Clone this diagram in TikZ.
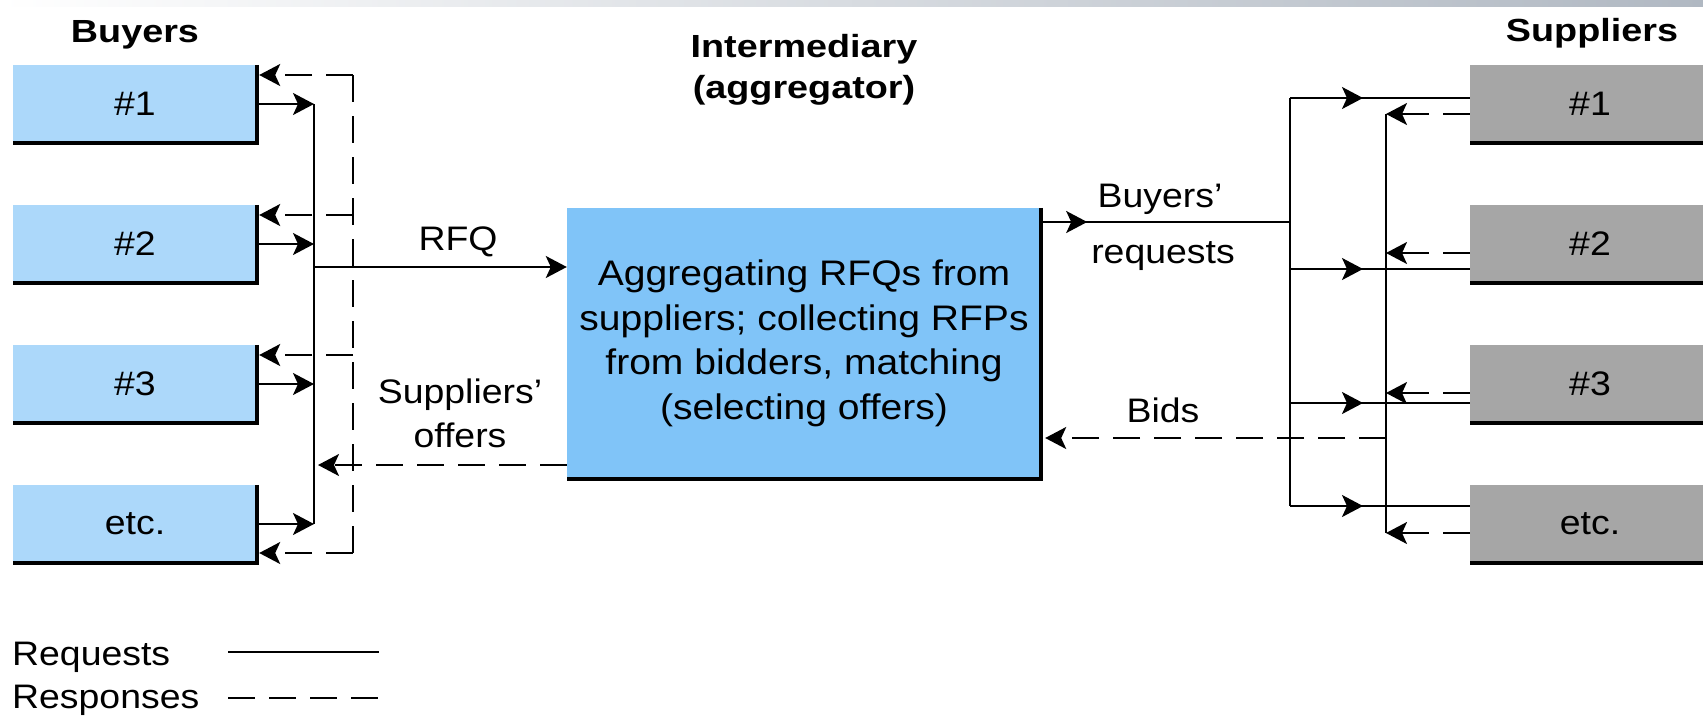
\documentclass[tikz,border=0pt]{standalone}
\usepackage{fontspec}
\setmainfont{Liberation Sans}[FakeStretch=1.1]
\newfontfamily\titlefam{Liberation Sans}[FakeStretch=1.18]
\usetikzlibrary{arrows.meta}
\definecolor{buyerblue}{RGB}{172,216,250}
\definecolor{aggblue}{RGB}{128,196,248}
\definecolor{suppgray}{RGB}{166,166,166}
\definecolor{bandgray}{RGB}{176,184,194}
\newcommand\dfont{\fontsize{34}{43}\selectfont}
\newcommand\afont{\fontsize{35.5}{44.5}\selectfont}
\newcommand\tfont{\titlefam\bfseries\fontsize{32}{41}\selectfont}
\begin{document}
\begin{tikzpicture}[x=1pt,y=-1pt,
  >={Stealth[length=21pt,width=22pt,inset=5pt]},
  every node/.style={font=\dfont, inner sep=0pt},
  boxbase/.style={minimum height=78pt, inner sep=0pt},
  buyerbox/.style={boxbase, fill=buyerblue, minimum width=244pt},
  suppbox/.style={boxbase, fill=suppgray, minimum width=240pt},
  aggbox/.style={fill=aggblue, minimum width=474pt, minimum height=271pt, align=center, font=\afont},
  shadowedge/.style={line width=4.5pt, line join=miter},
  req/.style={line width=2pt},
  resp/.style={line width=2pt, dash pattern=on 27pt off 14pt},
  titletext/.style={font=\tfont, anchor=base},
  lbl/.style={anchor=base},
]
\useasboundingbox (0,0) rectangle (1703,718);
\shade[left color=white, right color=bandgray] (0,0) rectangle (1703,6);

% titles
\node[titletext] (tb) at (135,42) {Buyers};
\node[titletext] (ti1) at (804,57) {Intermediary};
\node[titletext] (ti2) at (804,98) {(aggregator)};
\node[titletext] (ts) at (1592,41) {Suppliers};

% buyer boxes
\node[buyerbox] (b1) at (135,104) {\#1};
\node[buyerbox] (b2) at (135,244) {\#2};
\node[buyerbox] (b3) at (135,384) {\#3};
\node[buyerbox] (b4) at (135,524) {etc.};
% supplier boxes
\node[suppbox] (s1) at (1590,104) {\#1};
\node[suppbox] (s2) at (1590,244) {\#2};
\node[suppbox] (s3) at (1590,384) {\#3};
\node[suppbox] (s4) at (1590,524) {etc.};
% aggregator
\node[aggbox] (agg) at (804,343.5) {Aggregating RFQs from\\suppliers; collecting RFPs\\from bidders, matching\\(selecting offers)};

\foreach \n in {b1,b2,b3,b4,agg}
  \draw[shadowedge] (\n.north east) -- (\n.south east) -- (\n.south west);
\foreach \n in {s1,s2,s3,s4}
  \draw[shadowedge] (\n.south east) -- (\n.south west);

% left side buses
\coordinate (lq1) at (314,104);
\coordinate (lq4) at (314,524);
\coordinate (lp1) at (353,75);
\coordinate (lp2) at (353,215);
\coordinate (lp3) at (353,355);
\coordinate (lp4) at (353,553);
\draw[req] (lq1) -- (lq4);
\draw[resp] (lp1) -- (lp4);
\foreach \i in {1,...,4}
  \draw[req,->] (b\i.east) -- (b\i.east -| lq1);
\foreach \i in {1,...,4}
  \draw[resp,->,shorten >=2pt] (lp\i) -- (lp\i -| b\i.east);

% RFQ and offers
\coordinate (rfq) at (314,267);
\draw[req,->] (rfq) -- (rfq -| agg.west);
\coordinate (off) at (318,465);
\draw[resp,->] (off -| agg.west) -- (off);

% right side
\coordinate (rq0) at (1290,222);
\coordinate (rq1) at (1290,98);
\coordinate (rq2) at (1290,269);
\coordinate (rq3) at (1290,403);
\coordinate (rq4) at (1290,506);
\draw[req] (rq1) -- (rq4);
\draw[req] (rq0 -| agg.east) -- (rq0);
\draw[req,->] (rq0 -| agg.east) -- ++(46,0);
\foreach \i in {1,...,4}{
  \draw[req] (rq\i) -- (rq\i -| s\i.west);
  \draw[req,->] (rq\i) -- ++(73,0);
}
\coordinate (rp1) at (1386,114);
\coordinate (rp2) at (1386,253);
\coordinate (rp3) at (1386,393);
\coordinate (rp4) at (1386,533);
\draw[req] (rp1) -- (rp4);
\foreach \i in {1,...,4}
  \draw[resp,->] (rp\i -| s\i.west) -- (rp\i);
\coordinate (bid) at (1386,438);
\draw[resp,->,shorten >=4pt] (bid) -- (bid -| agg.east);

% labels
\node[lbl] (lrfq) at (458,250) {RFQ};
\node[lbl] (loff1) at (460,403) {Suppliers’};
\node[lbl] (loff2) at (460,447) {offers};
\node[lbl] (lbr1) at (1160,207) {Buyers’};
\node[lbl] (lbr2) at (1163,263) {requests};
\node[lbl] (lbid) at (1163,422) {Bids};

% legend
\node[anchor=base west] (legq) at (12,665) {Requests};
\node[anchor=base west] (legp) at (12,708) {Responses};
\coordinate (lga) at (228,652);
\coordinate (lgb) at (379,652);
\coordinate (lgc) at (228,698);
\coordinate (lgd) at (379,698);
\draw[req] (lga) -- (lgb);
\draw[resp] (lgc) -- (lgd);
\end{tikzpicture}
\end{document}
